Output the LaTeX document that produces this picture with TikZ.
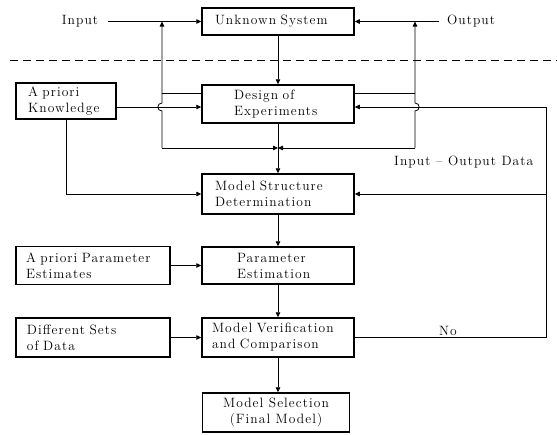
\documentclass[tikz,border=0pt]{standalone}
\usepackage{fontspec}
\setmainfont{Latin Modern Roman}[LetterSpace=8]
\usetikzlibrary{arrows.meta}
\newcommand\lsfont{\fontsize{13.5}{16}\selectfont}
\tikzset{
  box/.style={draw, line width=1.5pt, minimum width=152pt, minimum height=39pt, inner ysep=0pt, inner xsep=0pt, align=left, font=\lsfont},
  conn/.style={line width=0.8pt},
  arr/.style={conn, -{Triangle[length=5pt,width=4.5pt]}},
  lbl/.style={font=\lsfont, inner sep=0pt},
}
\begin{document}
\begin{tikzpicture}[x=1pt,y=-1pt]
\useasboundingbox (0,0) rectangle (557,434);
% boxes
\node[box, minimum height=27pt, inner xsep=13pt, text width=126pt] (us) at (278,21.5) {Unknown System};
\node[box, minimum height=38pt, inner xsep=32pt, text width=88pt] (de) at (278,104) {Design of\\Experiments};
\node[box, minimum height=40pt, inner xsep=13pt, text width=126pt] (msd) at (278,194) {Model Structure\\Determination};
\node[box, minimum height=37pt, inner xsep=35pt, text width=82pt] (pe) at (278,265.5) {Parameter\\Estimation};
\node[box, inner xsep=10pt, text width=132pt] (mvc) at (278,337.5) {Model Verification\\and Comparison};
\node[box, minimum width=147pt, align=center] (ms) at (276,412.5) {Model Selection\\(Final Model)};
\node[box, minimum width=100pt, minimum height=36pt, inner xsep=12pt, text width=76pt] (apk) at (66,101) {A priori\\Knowledge};
\node[box, minimum width=154pt, minimum height=38pt, inner xsep=10pt, text width=134pt] (appe) at (93,265.5) {A priori Parameter\\Estimates};
\node[box, minimum width=154pt, minimum height=39pt, inner xsep=11pt, text width=132pt] (dsd) at (93,337.5) {Different Sets\\of Data};
% labels
\node[lbl] (input) at (80,21.5) {Input};
\node[lbl] (output) at (471,21.5) {Output};
\node[lbl, anchor=west] (iod) at (394,162) {Input -- Output Data};
\node[lbl] (no) at (448,331) {No};
% separation
\draw[conn, dash pattern=on 8pt off 5pt] (10,60) -- (557,60);
% coordinates
\coordinate (tl) at (162,21.5);
\coordinate (bl) at (162,148);
\coordinate (tr) at (415,21.5);
\coordinate (br) at (415,148);
\coordinate (bc) at (278,148);
\coordinate (fr) at (546,107);
\coordinate (dl) at ([yshift=11pt]de.west);
\coordinate (dr) at ([yshift=11pt]de.east);
\coordinate (da) at ([yshift=-3pt]de.west);
\coordinate (dar) at ([yshift=-3pt]de.east);
% input / output
\draw[arr] ([xshift=10pt]input.east) -- (us.west);
\draw[arr] ([xshift=-8pt]output.west) -- (us.east);
\draw[arr] (us.south) -- (de.north);
% left and right verticals with hops
\draw[arr] (bl) -- ++(0,-37) .. controls +(-5.5,0) and +(-5.5,0) .. ++(0,-8) -- (tl);
\draw[arr] (br) -- ++(0,-37) .. controls +(5.5,0) and +(5.5,0) .. ++(0,-8) -- (tr);
\draw[conn] (dl) -- (dl -| bl);
\draw[conn] (dr) -- (dr -| br);
\draw[arr] (bl) -- (bc);
\draw[arr] (br) -- (bc);
% a priori knowledge
\draw[arr] (apk.east |- da) -- (da);
\draw[arr] (apk.south) |- (msd.west);
% main chain
\draw[arr] (de.south) -- (msd.north);
\draw[arr] (msd.south) -- (pe.north);
\draw[arr] (pe.south) -- (mvc.north);
\draw[arr] (mvc.south) -- (mvc.south |- ms.north);
\draw[arr] (appe.east) -- (pe.west);
\draw[arr] (dsd.east) -- (mvc.west);
% feedback
\draw[arr] (mvc.east) -- (mvc.east -| fr) -- (fr) -- (dar);
\draw[arr] (msd.east -| fr) -- (msd.east);
\end{tikzpicture}
\end{document}
